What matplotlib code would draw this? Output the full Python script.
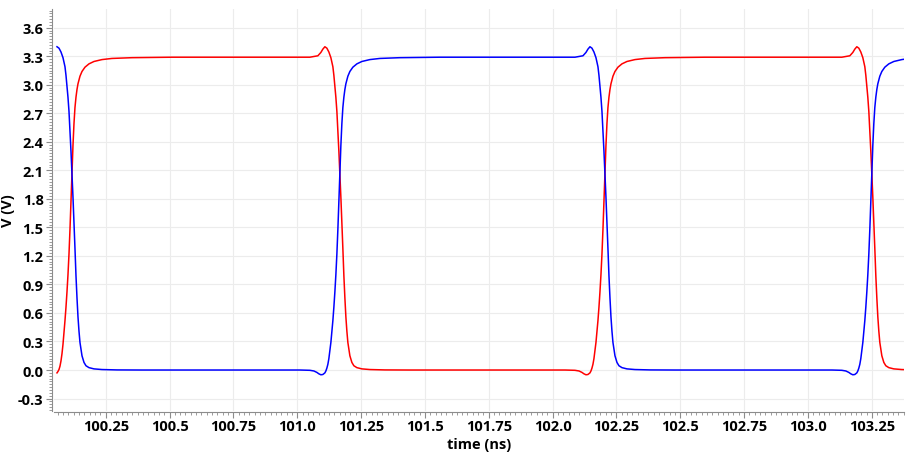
import matplotlib
matplotlib.use("Agg")
import matplotlib.pyplot as plt
from matplotlib.ticker import AutoMinorLocator, FixedLocator

plt.rcParams['font.family'] = ['Open Sans', 'DejaVu Sans']
plt.rcParams['font.weight'] = 'bold'

# red trace (time in ns, voltage in V)
red_t = [100.0593, 100.0632, 100.0671, 100.0710, 100.0749, 100.0788, 100.0828, 100.0867,
         100.0906, 100.0945, 100.0984, 100.1023, 100.1063, 100.1102, 100.1141, 100.1180,
         100.1219, 100.1258, 100.1297, 100.1337, 100.1376, 100.1415, 100.1493, 100.1572,
         100.1689, 100.1846, 100.2041, 100.2355, 100.2746, 100.3529, 100.5095,
         101.0495, 101.0809, 101.0926, 101.1004, 101.1083, 101.1161, 101.1239, 101.1318,
         101.1396, 101.1435, 101.1474, 101.1513, 101.1553, 101.1592, 101.1631, 101.1670,
         101.1709, 101.1748, 101.1787, 101.1827, 101.1866, 101.1905, 101.1944, 101.1983,
         101.2062, 101.2140, 101.2218, 101.2336, 101.2531, 101.2845, 101.3432, 101.4411,
         102.0484, 102.0875, 102.1032, 102.1149, 102.1228, 102.1306, 102.1384, 102.1463,
         102.1502, 102.1541, 102.1580, 102.1619, 102.1658, 102.1698, 102.1737, 102.1776,
         102.1815, 102.1854, 102.1893, 102.1933, 102.1972, 102.2011, 102.2050, 102.2089,
         102.2128, 102.2167, 102.2207, 102.2246, 102.2285, 102.2363, 102.2442, 102.2559,
         102.2716, 102.2911, 102.3225, 102.3616, 102.4399, 102.5965,
         103.1325, 103.1639, 103.1756, 103.1834, 103.1913, 103.1991, 103.2069, 103.2148,
         103.2226, 103.2265, 103.2304, 103.2343, 103.2383, 103.2422, 103.2461, 103.2500,
         103.2539, 103.2578, 103.2617, 103.2657, 103.2696, 103.2735, 103.2774, 103.2813,
         103.2892, 103.2970, 103.3048, 103.3166, 103.3361, 103.3675, 103.3800]
red_v = [-0.030, -0.015, 0.005, 0.040, 0.095, 0.170, 0.270, 0.390,
         0.520, 0.660, 0.820, 1.000, 1.220, 1.480, 1.770, 2.070,
         2.360, 2.590, 2.760, 2.870, 2.950, 3.010, 3.090, 3.140,
         3.185, 3.220, 3.245, 3.265, 3.277, 3.285, 3.290,
         3.290, 3.305, 3.340, 3.375, 3.400, 3.385, 3.345, 3.285,
         3.190, 3.100, 2.990, 2.870, 2.720, 2.520, 2.300, 2.070,
         1.820, 1.560, 1.280, 0.990, 0.760, 0.560, 0.410, 0.290,
         0.150, 0.080, 0.045, 0.025, 0.012, 0.005, 0.001, 0.000,
         0.000, -0.003, -0.010, -0.025, -0.040, -0.050, -0.047, -0.030,
         -0.010, 0.020, 0.060, 0.120, 0.200, 0.290, 0.400, 0.520,
         0.660, 0.820, 1.000, 1.220, 1.480, 1.770, 2.070, 2.360,
         2.590, 2.760, 2.870, 2.950, 3.010, 3.090, 3.140, 3.185,
         3.220, 3.245, 3.265, 3.277, 3.285, 3.290,
         3.290, 3.305, 3.340, 3.375, 3.400, 3.385, 3.345, 3.285,
         3.190, 3.100, 2.990, 2.870, 2.720, 2.520, 2.300, 2.070,
         1.820, 1.560, 1.280, 0.990, 0.760, 0.560, 0.410, 0.290,
         0.150, 0.080, 0.045, 0.025, 0.012, 0.005, 0.004]

# blue trace
blue_t = [100.0593, 100.0671, 100.0749, 100.0828, 100.0906, 100.0945, 100.0984, 100.1023,
          100.1063, 100.1102, 100.1141, 100.1180, 100.1219, 100.1258, 100.1297, 100.1337,
          100.1376, 100.1415, 100.1454, 100.1493, 100.1572, 100.1650, 100.1728, 100.1846,
          100.2041, 100.2355, 100.2942, 100.3921,
          101.0104, 101.0495, 101.0652, 101.0769, 101.0848, 101.0926, 101.1004, 101.1083,
          101.1122, 101.1161, 101.1200, 101.1239, 101.1278, 101.1318, 101.1357, 101.1396,
          101.1435, 101.1474, 101.1513, 101.1553, 101.1592, 101.1631, 101.1670, 101.1709,
          101.1748, 101.1787, 101.1827, 101.1866, 101.1905, 101.1983, 101.2062, 101.2179,
          101.2336, 101.2531, 101.2845, 101.3236, 101.4019, 101.5585,
          102.0875, 102.1189, 102.1306, 102.1384, 102.1463, 102.1541, 102.1619, 102.1698,
          102.1776, 102.1815, 102.1854, 102.1893, 102.1933, 102.1972, 102.2011, 102.2050,
          102.2089, 102.2128, 102.2167, 102.2207, 102.2246, 102.2285, 102.2324, 102.2363,
          102.2442, 102.2520, 102.2598, 102.2716, 102.2911, 102.3225, 102.3812, 102.4791,
          103.0934, 103.1325, 103.1482, 103.1599, 103.1678, 103.1756, 103.1834, 103.1913,
          103.1952, 103.1991, 103.2030, 103.2069, 103.2108, 103.2148, 103.2187, 103.2226,
          103.2265, 103.2304, 103.2343, 103.2383, 103.2422, 103.2461, 103.2500, 103.2539,
          103.2578, 103.2617, 103.2657, 103.2696, 103.2735, 103.2813, 103.2892, 103.3009,
          103.3166, 103.3361, 103.3675, 103.3800]
blue_v = [3.400, 3.385, 3.345, 3.285, 3.190, 3.100, 2.990, 2.870,
          2.720, 2.520, 2.300, 2.070, 1.820, 1.560, 1.280, 0.990,
          0.760, 0.560, 0.410, 0.290, 0.150, 0.080, 0.045, 0.025,
          0.012, 0.005, 0.001, 0.000,
          0.000, -0.003, -0.010, -0.025, -0.040, -0.050, -0.047, -0.030,
          -0.010, 0.020, 0.060, 0.120, 0.200, 0.290, 0.400, 0.520,
          0.660, 0.820, 1.000, 1.220, 1.480, 1.770, 2.070, 2.360,
          2.590, 2.760, 2.870, 2.950, 3.010, 3.090, 3.140, 3.185,
          3.220, 3.245, 3.265, 3.277, 3.285, 3.290,
          3.290, 3.305, 3.340, 3.375, 3.400, 3.385, 3.345, 3.285,
          3.190, 3.100, 2.990, 2.870, 2.720, 2.520, 2.300, 2.070,
          1.820, 1.560, 1.280, 0.990, 0.760, 0.560, 0.410, 0.290,
          0.150, 0.080, 0.045, 0.025, 0.012, 0.005, 0.001, 0.000,
          0.000, -0.003, -0.010, -0.025, -0.040, -0.050, -0.047, -0.030,
          -0.010, 0.020, 0.060, 0.120, 0.200, 0.290, 0.400, 0.520,
          0.660, 0.820, 1.000, 1.220, 1.480, 1.770, 2.070, 2.360,
          2.590, 2.760, 2.870, 2.950, 3.010, 3.090, 3.140, 3.185,
          3.220, 3.245, 3.265, 3.270]

x_ticks = [100.25, 100.5, 100.75, 101.0, 101.25, 101.5, 101.75,
           102.0, 102.25, 102.5, 102.75, 103.0, 103.25]
x_labels = ['100.25', '100.5', '100.75', '101.0', '101.25', '101.5', '101.75',
            '102.0', '102.25', '102.5', '102.75', '103.0', '103.25']
y_ticks = [-0.3, 0.0, 0.3, 0.6, 0.9, 1.2, 1.5, 1.8, 2.1, 2.4, 2.7, 3.0, 3.3, 3.6]

fig = plt.figure(figsize=(9.15, 4.56), dpi=100)
ax = fig.add_axes([54 / 915, 44 / 456, 850 / 915, 402 / 456])

ax.plot(red_t, red_v, color='#ff0000', lw=1.1)
ax.plot(blue_t, blue_v, color='#0000ff', lw=1.1)

ax.set_xlim(100.0476, 103.376)
ax.set_ylim(-0.431, 3.797)

ax.xaxis.set_major_locator(FixedLocator(x_ticks))
ax.set_xticklabels(x_labels, fontweight='bold')
ax.xaxis.set_minor_locator(AutoMinorLocator(12))
ax.yaxis.set_major_locator(FixedLocator(y_ticks))
ax.set_yticklabels(['%.1f' % v for v in y_ticks], fontweight='bold')
ax.yaxis.set_minor_locator(AutoMinorLocator(10))

ax.grid(True, which='major', color='#ececec', lw=0.8)
ax.set_axisbelow(True)

for s in ['top', 'right']:
    ax.spines[s].set_visible(False)
ax.spines['left'].set_position(('outward', 1.5))
ax.spines['bottom'].set_position(('outward', 0.8))
for s in ['left', 'bottom']:
    ax.spines[s].set_color('#8c8c8c')
    ax.spines[s].set_linewidth(0.8)

ax.tick_params(which='major', length=4, width=0.8, color='#8c8c8c', labelsize=10.5, pad=2)
ax.tick_params(which='minor', length=2.5, width=0.6, color='#8c8c8c')
ax.tick_params(axis='x', which='major', pad=1)

ax.set_xlabel('time (ns)', fontsize=10.5, fontweight='bold', labelpad=3)
ax.set_ylabel('V (V)', fontsize=10.5, fontweight='bold', labelpad=2)

fig.savefig('out.png', dpi=100)
